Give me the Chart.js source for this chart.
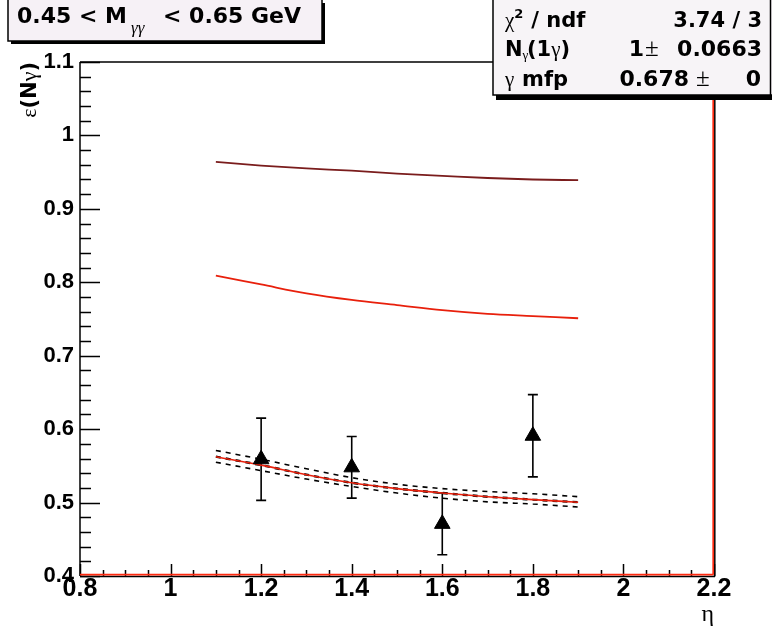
<!DOCTYPE html>
<html>
<head>
<meta charset="utf-8">
<script src="https://cdn.jsdelivr.net/npm/chart.js@4/dist/chart.umd.min.js"></script>
<style>
  html, body { margin: 0; padding: 0; background: #ffffff; }
  canvas { display: block; }
</style>
</head>
<body>
<canvas id="eff" width="772" height="632"></canvas>
<script>
// Axis ticks
const xTickValues = [0.8, 1.0, 1.2, 1.4, 1.6, 1.8, 2.0, 2.2];
const xTickLabels = ['0.8', '1', '1.2', '1.4', '1.6', '1.8', '2', '2.2'];
const yTickValues = [0.4, 0.5, 0.6, 0.7, 0.8, 0.9, 1.0, 1.1];
const yTickLabels = ['0.4', '0.5', '0.6', '0.7', '0.8', '0.9', '1', '1.1'];

// Measured efficiency per eta bin, with symmetric errors
const etaMeasured = [1.2, 1.4, 1.6, 1.8];
const effMeasured = [0.559, 0.548, 0.471, 0.591];
const effError    = [0.056, 0.042, 0.042, 0.056];

// Model curves sampled along eta
const etaCurve    = [1.1, 1.2, 1.3, 1.4, 1.5, 1.6, 1.7, 1.8, 1.9];
const effZeroConv = [0.964, 0.959, 0.955, 0.952, 0.948, 0.945, 0.942, 0.940, 0.939];
const effOneGamma = [0.809, 0.797, 0.785, 0.776, 0.769, 0.762, 0.757, 0.754, 0.751];
const effFit      = [0.5625, 0.551, 0.538, 0.527, 0.519, 0.513, 0.508, 0.504, 0.5005];
const effFitHigh  = [0.571, 0.559, 0.546, 0.534, 0.525, 0.519, 0.515, 0.512, 0.508];
const effFitLow   = [0.555, 0.5435, 0.532, 0.522, 0.513, 0.506, 0.501, 0.498, 0.494];

const pts = (xs, ys) => xs.map((x, i) => ({ x: x, y: ys[i] }));

const curveStyle = { showLine: true, pointRadius: 0, cubicInterpolationMode: 'monotone', fill: false };

// Draws a run of text pieces with their own fonts; returns the end x
function textRun(ctx, x, y, pieces) {
  for (const p of pieces) {
    ctx.font = p.f;
    const px = (p.x !== undefined) ? p.x : x;
    ctx.fillText(p.t, px, y + (p.dy || 0));
    x = px + ctx.measureText(p.t).width;
  }
  return x;
}

const B = 'bold 21px "DejaVu Sans"';
const SYM = '21px "Liberation Serif"';
const PM = '25px "Liberation Serif"';

const rootFrame = {
  id: 'rootFrame',
  beforeDatasetsDraw(chart) {
    // error bars under the markers
    const ctx = chart.ctx;
    const xs = chart.scales.x, ys = chart.scales.y;
    ctx.save();
    ctx.strokeStyle = '#000';
    ctx.lineWidth = 1.6;
    etaMeasured.forEach((eta, i) => {
      const px = xs.getPixelForValue(eta);
      const top = ys.getPixelForValue(effMeasured[i] + effError[i]);
      const bot = ys.getPixelForValue(effMeasured[i] - effError[i]);
      ctx.beginPath();
      ctx.moveTo(px, top); ctx.lineTo(px, bot);
      ctx.moveTo(px - 5, top); ctx.lineTo(px + 5, top);
      ctx.moveTo(px - 5, bot); ctx.lineTo(px + 5, bot);
      ctx.stroke();
    });
    ctx.restore();
  },
  afterDraw(chart) {
    const ctx = chart.ctx;
    const a = chart.chartArea;
    const xs = chart.scales.x, ys = chart.scales.y;
    ctx.save();

    // inner tick marks
    ctx.strokeStyle = '#000';
    ctx.lineWidth = 1.5;
    ctx.beginPath();
    for (let k = 0; k <= 35; k++) {
      const v = 0.4 + k * 0.02;
      const py = Math.round(ys.getPixelForValue(v)) + 0.5;
      const len = (k % 5 === 0) ? 20 : 11;
      ctx.moveTo(a.left, py); ctx.lineTo(a.left + len, py);
    }
    for (let k = 0; k <= 28; k++) {
      const v = 0.8 + k * 0.05;
      const px = Math.round(xs.getPixelForValue(v)) + 0.5;
      const len = (k % 4 === 0) ? 12 : 6;
      ctx.moveTo(px, a.bottom); ctx.lineTo(px, a.bottom - len);
    }
    ctx.stroke();

    // frame
    ctx.lineWidth = 1.5;
    ctx.beginPath();
    ctx.moveTo(a.left, a.top); ctx.lineTo(a.right, a.top);
    ctx.moveTo(a.left, a.top); ctx.lineTo(a.left, a.bottom);
    ctx.stroke();
    ctx.beginPath();
    ctx.moveTo(a.left, a.bottom + 0.5); ctx.lineTo(a.right + 1, a.bottom + 0.5);
    ctx.moveTo(a.right + 0.8, a.top); ctx.lineTo(a.right + 0.8, a.bottom + 0.5);
    ctx.stroke();
    ctx.strokeStyle = '#ff2a10';
    ctx.lineWidth = 1.7;
    ctx.beginPath();
    ctx.moveTo(a.left, a.bottom - 1.3); ctx.lineTo(a.right - 0.8, a.bottom - 1.3);
    ctx.moveTo(a.right - 0.8, a.top); ctx.lineTo(a.right - 0.8, a.bottom - 1.3);
    ctx.stroke();

    // axis titles
    ctx.fillStyle = '#000';
    ctx.textBaseline = 'alphabetic';
    ctx.save();
    ctx.translate(36, a.top);
    ctx.rotate(-Math.PI / 2);
    const yTitle = [
      { t: '\u03b5', f: '22px "Liberation Serif"' },
      { t: '(N', f: 'bold 21px "DejaVu Sans"' },
      { t: '\u03b3', f: '22px "Liberation Serif"' },
      { t: ')', f: 'bold 21px "DejaVu Sans"' }
    ];
    let w = 0;
    yTitle.forEach(p => { ctx.font = p.f; w += ctx.measureText(p.t).width; });
    textRun(ctx, -w, 0, yTitle);
    ctx.restore();

    ctx.font = '24px "Liberation Serif"';
    ctx.textAlign = 'right';
    ctx.fillText('\u03b7', 714, 621);
    ctx.textAlign = 'left';

    // title box
    ctx.fillStyle = '#000';
    ctx.fillRect(11, 3, 314, 41);
    ctx.fillStyle = '#f6f1f6';
    ctx.fillRect(8, -2, 314, 43);
    ctx.strokeStyle = '#000';
    ctx.lineWidth = 1.5;
    ctx.strokeRect(8, -2, 314, 43);
    ctx.fillStyle = '#000';
    textRun(ctx, 17, 23, [
      { t: '0.45 < M', f: 'bold 22px "DejaVu Sans"' },
      { t: '\u03b3\u03b3', f: 'italic 17px "Liberation Serif"', x: 131, dy: 10 },
      { t: '< 0.65 GeV', f: 'bold 22px "DejaVu Sans"', x: 163 }
    ]);

    // fit statistics box
    ctx.fillStyle = '#000';
    ctx.fillRect(496, 3, 280, 97);
    ctx.fillStyle = '#f7f4f7';
    ctx.fillRect(493, -2, 282, 97);
    ctx.strokeRect(493, -2, 282, 97);
    ctx.beginPath();
    ctx.moveTo(770.5, -2); ctx.lineTo(770.5, 95);
    ctx.stroke();

    ctx.fillStyle = '#000';
    // line 1
    textRun(ctx, 505, 27, [
      { t: '\u03c7', f: SYM },
      { t: '2', f: 'bold 13px "DejaVu Sans"', dy: -9 },
      { t: ' / ndf', f: B, x: 524 }
    ]);
    ctx.textAlign = 'right';
    ctx.font = B;
    ctx.fillText('3.74 / 3', 762, 27);
    ctx.textAlign = 'left';

    // line 2
    textRun(ctx, 505, 56, [
      { t: 'N', f: B },
      { t: '\u03b3', f: '13px "Liberation Serif"', dy: 3 },
      { t: '(1', f: B, x: 527 },
      { t: '\u03b3', f: SYM },
      { t: ')', f: B }
    ]);
    ctx.textAlign = 'right';
    ctx.font = 'bold 22px "DejaVu Sans"';
    ctx.fillText('1', 644, 56);
    ctx.fillText('0.0663', 762, 56);
    ctx.textAlign = 'left';
    ctx.font = PM;
    ctx.fillText('\u00b1', 645, 56);

    // line 3
    textRun(ctx, 505, 86, [
      { t: '\u03b3', f: SYM },
      { t: 'mfp', f: B, x: 522 }
    ]);
    ctx.textAlign = 'right';
    ctx.font = 'bold 22px "DejaVu Sans"';
    ctx.fillText('0.678', 689, 86);
    ctx.fillText('0', 761, 86);
    ctx.textAlign = 'left';
    ctx.font = PM;
    ctx.fillText('\u00b1', 696, 86);

    ctx.restore();
  }
};

new Chart(document.getElementById('eff'), {
  type: 'line',
  data: {
    datasets: [
      {
        label: 'data',
        data: pts(etaMeasured, effMeasured),
        showLine: false,
        pointStyle: 'triangle',
        pointRadius: 9,
        backgroundColor: '#000',
        borderColor: '#000',
        borderWidth: 1,
        order: 0
      },
      Object.assign({ label: 'fit', data: pts(etaCurve, effFit), borderColor: '#e8200c', borderWidth: 1.6, order: 1 }, curveStyle),
      Object.assign({ label: 'fit central', data: pts(etaCurve, effFit), borderColor: '#000', borderWidth: 2.4, borderDash: [5, 5], order: 2 }, curveStyle),
      Object.assign({ label: 'fit +1 sigma', data: pts(etaCurve, effFitHigh), borderColor: '#000', borderWidth: 1.6, borderDash: [5, 5], order: 3 }, curveStyle),
      Object.assign({ label: 'fit -1 sigma', data: pts(etaCurve, effFitLow), borderColor: '#000', borderWidth: 1.6, borderDash: [5, 5], order: 3 }, curveStyle),
      Object.assign({ label: 'one photon', data: pts(etaCurve, effOneGamma), borderColor: '#e8200c', borderWidth: 1.8, order: 4 }, curveStyle),
      Object.assign({ label: 'no conversion', data: pts(etaCurve, effZeroConv), borderColor: '#7a1c1c', borderWidth: 1.8, order: 5 }, curveStyle)
    ]
  },
  options: {
    responsive: false,
    animation: false,
    devicePixelRatio: 1,
    layout: { padding: { left: 0, top: 62, right: 58, bottom: 0 } },
    plugins: { legend: { display: false }, tooltip: { enabled: false } },
    scales: {
      x: {
        type: 'linear',
        min: 0.8, max: 2.2,
        afterBuildTicks: s => { s.ticks = xTickValues.map(v => ({ value: v })); },
        afterFit: s => { s.height = 56; },
        grid: { display: false, drawTicks: false },
        border: { display: false },
        ticks: {
          autoSkip: false, maxRotation: 0, padding: -2, color: '#000',
          font: { family: '"Liberation Sans"', weight: 'bold', size: 25 },
          callback: (v, i) => xTickLabels[i]
        }
      },
      y: {
        type: 'linear',
        min: 0.4, max: 1.1,
        afterBuildTicks: s => { s.ticks = yTickValues.map(v => ({ value: v })); },
        afterFit: s => { s.width = 80; },
        grid: { display: false, drawTicks: false },
        border: { display: false },
        ticks: {
          autoSkip: false, padding: 6, color: '#000',
          font: { family: '"Liberation Sans"', weight: 'bold', size: 22 },
          callback: (v, i) => yTickLabels[i]
        }
      }
    }
  },
  plugins: [rootFrame]
});
</script>
</body>
</html>
